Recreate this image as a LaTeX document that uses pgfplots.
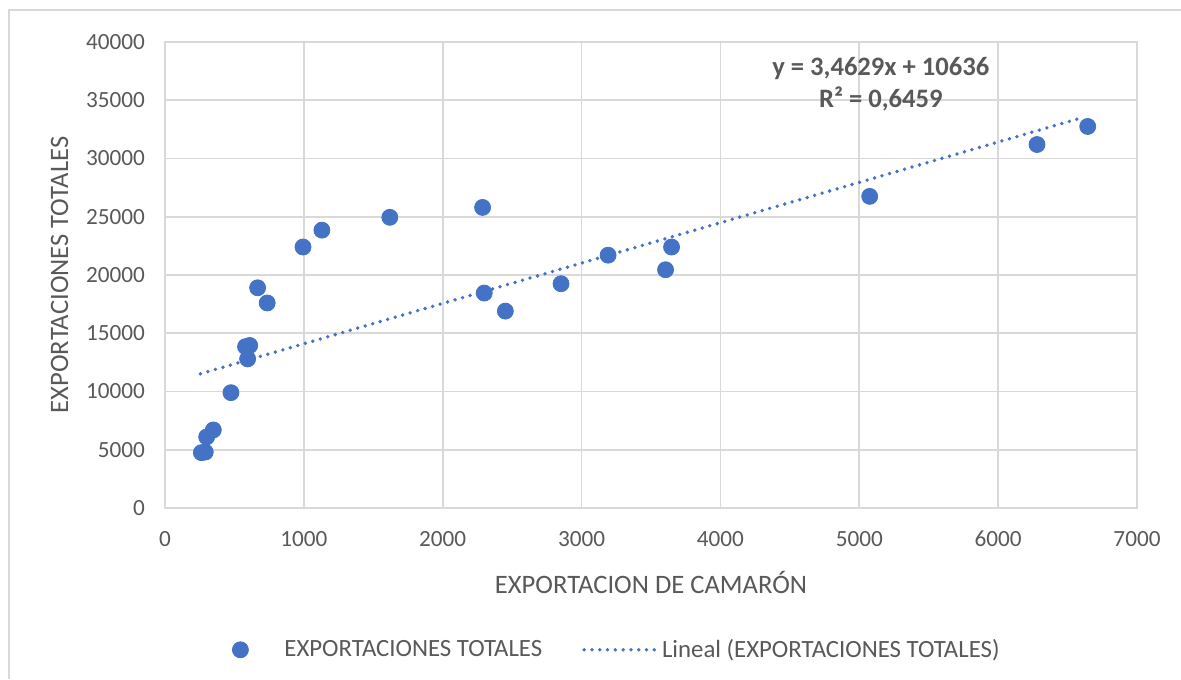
\documentclass[border=0pt]{standalone}
\usepackage{fontspec}
\setmainfont{Carlito}
\usepackage{pgfplots}
\pgfplotsset{compat=1.18}
\definecolor{ptblue}{HTML}{4472C4}
\definecolor{txtgray}{HTML}{595959}
\definecolor{gridgray}{HTML}{D9D9D9}
\begin{document}
\begin{tikzpicture}
\useasboundingbox (0,0) rectangle (590.5pt,339.5pt);
\draw[gridgray, line width=1pt] (4.5pt,0) -- (4.5pt,334.5pt) -- (590.5pt,334.5pt);
\begin{axis}[
  at={(82.5pt,85.5pt)}, anchor=south west,
  scale only axis, width=486pt, height=233pt,
  xmin=0, xmax=7000, ymin=0, ymax=40000,
  xtick={0,1000,...,7000}, ytick={0,5000,...,40000},
  scaled ticks=false,
  /pgf/number format/.cd, assume math mode=true, set thousands separator={}, 1000 sep={},
  /pgfplots/.cd,
  grid=major, major grid style={gridgray, line width=0.8pt},
  axis line style={gridgray, line width=0.8pt},
  tick style={draw=none},
  ticklabel style={font=\fontsize{11.6}{14}\selectfont, text=txtgray},
  xticklabel style={yshift=-8pt},
  yticklabel style={xshift=-6.5pt},
  xlabel={EXPORTACION DE CAMARÓN},
  ylabel={EXPORTACIONES TOTALES},
  label style={font=\fontsize{13.3}{15}\selectfont, text=txtgray},
  xlabel style={yshift=-5.5pt},
  ylabel style={yshift=2pt},
  legend style={at={(0.5,-0.285)}, anchor=north, draw=none, xshift=-16.5pt, yshift=5pt,
    legend columns=2, font=\fontsize{12.4}{14}\selectfont, text=txtgray,
    /tikz/every even column/.append style={column sep=18pt}},
  legend cell align=left,
]
\addplot[only marks, mark=*, mark size=4pt, color=ptblue] coordinates {
  (262,4750) (290,4800) (300,6100) (348,6700)
  (475,9900) (580,13850) (610,13950) (595,12800)
  (667,18900) (736,17600)
  (994,22400) (1130,23850) (1619,24950)
  (2287,25800) (2299,18450) (2451,16900)
  (2852,19250) (3191,21700) (3648,22400) (3605,20450)
  (5075,26750) (6280,31200) (6645,32750)
};
\addlegendentry{\hspace{16pt}EXPORTACIONES TOTALES}
\addplot[ptblue, line width=1.9pt, line cap=round, dash pattern=on 0pt off 3.9pt,
  legend image code/.code={\draw[ptblue, line width=1.9pt, line cap=round, dash pattern=on 0pt off 3.9pt] (0pt,0pt) -- (36pt,0pt);}] coordinates {
  (255,11519) (6620,33560)
};
\addlegendentry{Lineal (EXPORTACIONES TOTALES)}
\node[font=\bfseries\fontsize{13.3}{16}\selectfont, text=txtgray, align=center]
  at (axis cs:5155,36400) {y = 3,4629x + 10636\\R² = 0,6459};
\end{axis}
\end{tikzpicture}
\end{document}
